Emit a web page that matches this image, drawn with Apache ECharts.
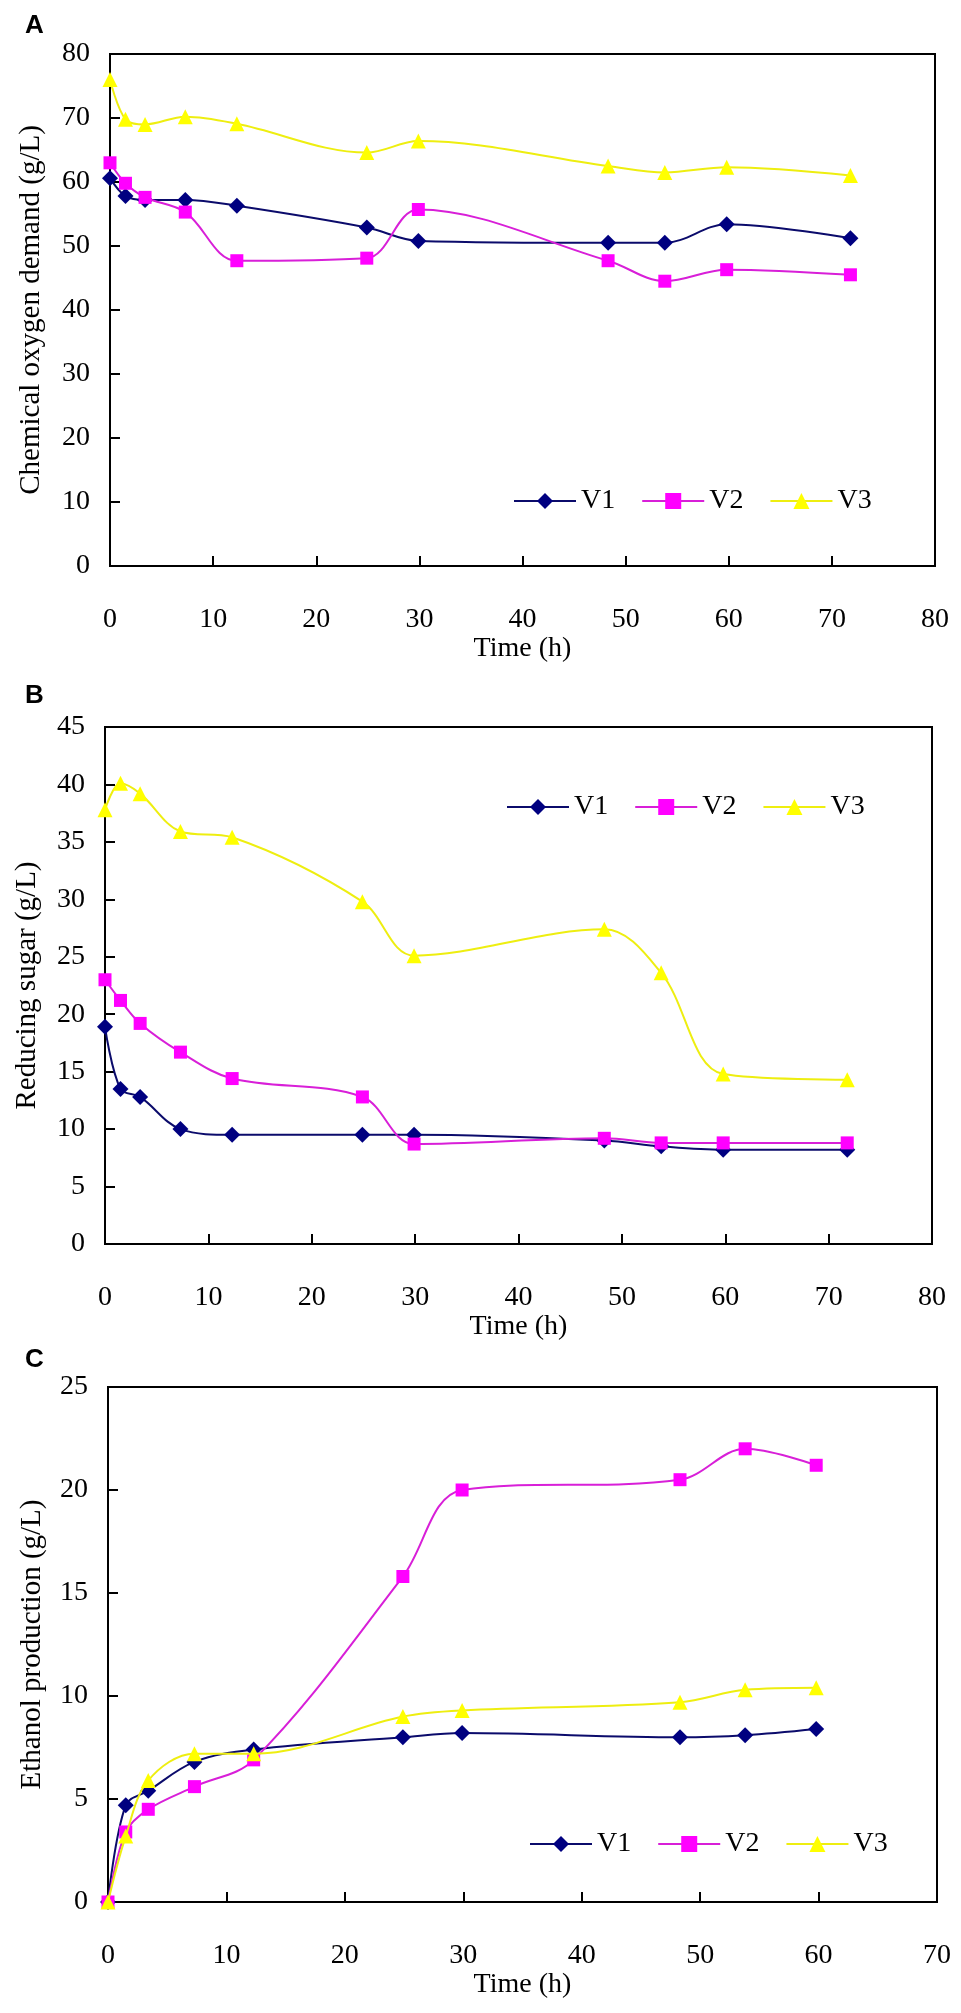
<!DOCTYPE html>
<html>
<head>
<meta charset="utf-8">
<script src="https://cdn.jsdelivr.net/npm/echarts@6/dist/echarts.min.js"></script>
<style>
  html, body { margin: 0; padding: 0; background: #fff; }
  #main { width: 961px; height: 2013px; }
</style>
</head>
<body>
<div id="main"></div>
<script>
// sampling times (h)
var times = [0, 1.5, 3.4, 7.3, 12.3, 24.9, 29.9, 48.3, 53.8, 59.8, 71.8];

// A - chemical oxygen demand (g/L)
var codV1 = [60.6, 57.8, 57.2, 57.2, 56.3, 52.9, 50.8, 50.5, 50.5, 53.4, 51.2];
var codV2 = [63.0, 59.8, 57.6, 55.3, 47.7, 48.1, 55.7, 47.7, 44.5, 46.3, 45.5];
var codV3 = [76.0, 69.8, 69.0, 70.2, 69.1, 64.6, 66.4, 62.5, 61.5, 62.3, 61.0];

// B - reducing sugar (g/L)
var sugV1 = [18.9, 13.5, 12.8, 10.0, 9.5, 9.5, 9.5, 9.0, 8.5, 8.2, 8.2];
var sugV2 = [23.0, 21.2, 19.2, 16.7, 14.4, 12.8, 8.7, 9.2, 8.8, 8.8, 8.8];
var sugV3 = [37.8, 40.1, 39.2, 35.9, 35.4, 29.8, 25.1, 27.4, 23.6, 14.8, 14.3];

// C - ethanol production (g/L), sampled up to 60 h
var ethV1 = [0, 4.7, 5.4, 6.8, 7.4, 8.0, 8.2, 8.0, 8.1, 8.4];
var ethV2 = [0, 3.4, 4.5, 5.6, 6.9, 15.8, 20.0, 20.5, 22.0, 21.2];
var ethV3 = [0, 3.2, 5.9, 7.2, 7.2, 9.0, 9.3, 9.7, 10.3, 10.4];

var names = ['V1', 'V2', 'V3'];
var yNames = ['Chemical oxygen demand (g/L)', 'Reducing sugar (g/L)', 'Ethanol production (g/L)'];
var panelLetters = ['A', 'B', 'C'];

var serif = '"Liberation Serif", "Times New Roman", serif';

function pairs(t, v) {
    return v.map(function (y, i) { return [t[i], y]; });
}

var grids = [
    {left: 110, top: 54, width: 825, height: 512},
    {left: 105, top: 727, width: 827, height: 517},
    {left: 108, top: 1387, width: 829, height: 515}
];
var xMax = [80, 80, 70];
var yMax = [80, 45, 25];
var yStep = [10, 5, 5];
var legendPos = [
    {left: 508, top: 482},
    {left: 501, top: 788},
    {left: 524, top: 1825}
];
var titleTop = [8, 678, 1342];
var xNameGap = [65, 60, 69];
var yNameGap = [64, 63, 61];

var styles = [
    {line: '#0b0b6b', fill: '#000080', symbol: 'diamond', size: 16},
    {line: '#d81fd8', fill: '#ff00ff', symbol: 'rect', size: 13},
    {line: '#eeee10', fill: '#ffff00', symbol: 'triangle', size: 15}
];

var panelData = [
    [codV1, codV2, codV3],
    [sugV1, sugV2, sugV3],
    [ethV1, ethV2, ethV3]
];

var option = {
    backgroundColor: '#fff',
    animation: false,
    title: [],
    legend: [],
    grid: [],
    xAxis: [],
    yAxis: [],
    series: []
};

for (var p = 0; p < 3; p++) {
    option.title.push({
        text: panelLetters[p],
        left: 20,
        top: titleTop[p],
        textStyle: {fontFamily: '"Liberation Sans", Arial, sans-serif', fontWeight: 'bold', fontSize: 26, color: '#000'}
    });
    option.grid.push({
        left: grids[p].left, top: grids[p].top, width: grids[p].width, height: grids[p].height,
        show: true, borderColor: '#000', borderWidth: 2, backgroundColor: 'transparent'
    });
    option.legend.push({
        data: names,
        left: legendPos[p].left,
        top: legendPos[p].top,
        orient: 'horizontal',
        itemWidth: 62,
        itemHeight: 20,
        itemGap: 26,
        selectedMode: false,
        textStyle: {fontFamily: serif, fontSize: 28, color: '#000'}
    });
    option.xAxis.push({
        type: 'value',
        gridIndex: p,
        min: 0,
        max: xMax[p],
        interval: 10,
        name: 'Time (h)',
        nameLocation: 'middle',
        nameGap: xNameGap[p],
        nameTextStyle: {fontFamily: serif, fontSize: 28, color: '#000'},
        axisLine: {lineStyle: {color: '#000', width: 2}},
        axisTick: {inside: true, length: 10, lineStyle: {color: '#000', width: 2}},
        axisLabel: {fontFamily: serif, fontSize: 28, color: '#000', margin: 40},
        splitLine: {show: false}
    });
    option.yAxis.push({
        type: 'value',
        gridIndex: p,
        min: 0,
        max: yMax[p],
        interval: yStep[p],
        name: yNames[p],
        nameLocation: 'middle',
        nameGap: yNameGap[p],
        nameRotate: 90,
        nameTextStyle: {fontFamily: serif, fontSize: 29, color: '#000'},
        axisLine: {lineStyle: {color: '#000', width: 2}},
        axisTick: {inside: true, length: 10, lineStyle: {color: '#000', width: 2}},
        axisLabel: {fontFamily: serif, fontSize: 28, color: '#000', margin: 20, padding: [12, 0, 0, 0]},
        splitLine: {show: false}
    });
    for (var s = 0; s < 3; s++) {
        option.series.push({
            name: names[s],
            type: 'line',
            xAxisIndex: p,
            yAxisIndex: p,
            data: pairs(times, panelData[p][s]),
            smooth: 0.35,
            symbol: styles[s].symbol,
            symbolSize: styles[s].size,
            showAllSymbol: true,
            lineStyle: {color: styles[s].line, width: 2},
            itemStyle: {color: styles[s].fill, borderColor: styles[s].fill, borderWidth: 0},
            z: 3 + s
        });
    }
}

var chart = echarts.init(document.getElementById('main'));
chart.setOption(option);
</script>
</body>
</html>
